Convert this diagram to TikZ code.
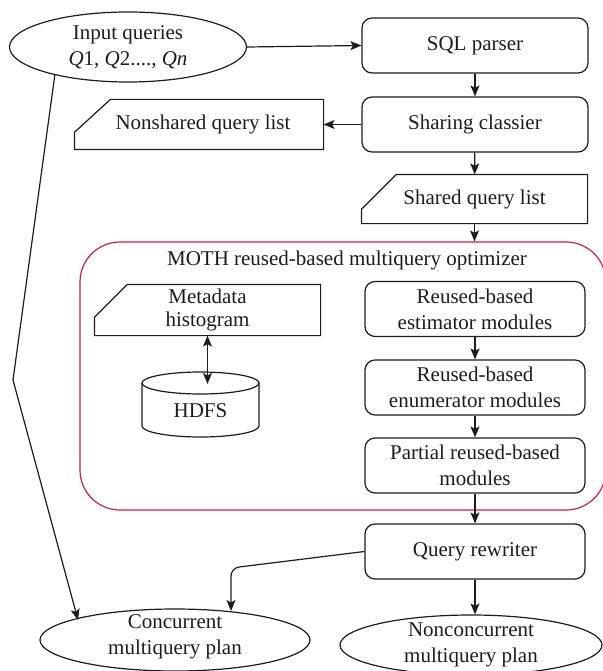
\documentclass[tikz,border=0pt]{standalone}
\usepackage{fontspec}
\setmainfont{Liberation Serif}
\usetikzlibrary{shapes.geometric,arrows.meta}
\definecolor{ink}{RGB}{30,27,28}
\definecolor{mothred}{RGB}{206,32,62}
\begin{document}
\begin{tikzpicture}[x=1pt,y=-1pt, line width=1.2pt, color=ink,
  every node/.style={font=\fontsize{21}{26}\selectfont, align=center, inner sep=0pt},
  rbox/.style={draw, rounded corners=10pt, minimum width=220pt, minimum height=55pt},
  ell/.style={draw, ellipse, inner sep=0pt},
  arr/.style={-{Stealth[length=11pt,width=9pt,inset=2.5pt]}},
  darr/.style={{Stealth[length=11pt,width=9pt,inset=2.5pt]}-{Stealth[length=11pt,width=9pt,inset=2.5pt]}},
]
\useasboundingbox (0,0) rectangle (602,671);

% container
\node[draw=mothred, rounded corners=40pt, minimum width=526pt, minimum height=268pt] (moth) at (343,376) {};
\node (mothtitle) at (347,260) {MOTH reused-based multiquery optimizer};

% input ellipse
\node[ell, minimum width=237pt, minimum height=70pt] (input) at (128,47) {};
\node (inputtxt) at (128,47) {Input queries\\\textit{Q}1, \textit{Q}2...., \textit{Qn}};

% right column
\node[rbox, minimum width=226pt] (sql) at (475,45.5) {SQL parser};
\node[rbox, minimum width=226pt] (share) at (475,124.5) {Sharing classier};

\node[minimum width=248pt, minimum height=49pt] (nonshared) at (199,124.5) {\hspace*{8pt}Nonshared query list};
\draw (nonshared.south west) -- (nonshared.south east) -- (nonshared.north east)
  -- ([xshift=36pt]nonshared.north west) -- ([yshift=-33pt]nonshared.north west) -- cycle;

\node[minimum width=225pt, minimum height=48pt] (shared) at (474.5,199) {Shared query list};
\draw (shared.south west) -- (shared.south east) -- (shared.north east)
  -- ([xshift=35pt]shared.north west) -- ([yshift=-35pt]shared.north west) -- cycle;

\node[rbox] (estim) at (475,309) {Reused-based\\estimator modules};
\node[rbox] (enum) at (475,387.5) {Reused-based\\enumerator modules};
\node[rbox] (partial) at (475,465.5) {Partial reused-based\\modules};
\node[rbox] (rewriter) at (475,551.5) {Query rewriter};

% metadata and HDFS
\node[minimum width=225pt, minimum height=50pt, font=\fontsize{21}{23.5}\selectfont] (meta) at (207.5,310) {Metadata\\histogram};
\draw (meta.south west) -- (meta.south east) -- (meta.north east)
  -- ([xshift=33pt]meta.north west) -- ([yshift=-33pt]meta.north west) -- cycle;

\draw (200.5,383) ellipse [x radius=58.5pt, y radius=11pt];
\draw (142,383) -- (142,426) arc[start angle=180, end angle=360, x radius=58.5pt, y radius=11pt] -- (259,383);
\node (hdfs) at (200.5,411) {HDFS};
\coordinate (hdfstop) at (207.5,384);

% output ellipses
\node[ell, minimum width=270pt, minimum height=62pt] (conc) at (175,640) {};
\node (conctxt) at (175,637) {Concurrent\\multiquery plan};
\node[ell, minimum width=262pt, minimum height=60pt] (nonconc) at (471,645) {};
\node (nonconctxt) at (471,645) {Nonconcurrent\\multiquery plan};

% connectors
\draw[arr] (input.east) -- (sql.west);
\draw[arr] (sql) -- (share);
\draw[arr] (share.west) -- (nonshared.east);
\draw[arr] (share) -- (shared);
\draw[arr] (shared.south) -- (shared.south |- moth.north);
\draw[arr] (estim) -- (enum);
\draw[arr] (enum) -- (partial);
\draw[arr] (partial) -- (rewriter);
\draw[arr] (rewriter.south) -- (rewriter.south |- nonconc.north);
\draw[darr] (meta.south) -- (hdfstop);

\coordinate (bend) at (13,380);
\coordinate (conctip) at (78,620);
\draw[arr] (input.201) -- (bend) -- (conctip);

\coordinate (corner) at (231,568);
\coordinate (conctip2) at (231,611);
\draw[arr, rounded corners=8pt] (rewriter.west) -- (corner) -- (conctip2);
\end{tikzpicture}
\end{document}
